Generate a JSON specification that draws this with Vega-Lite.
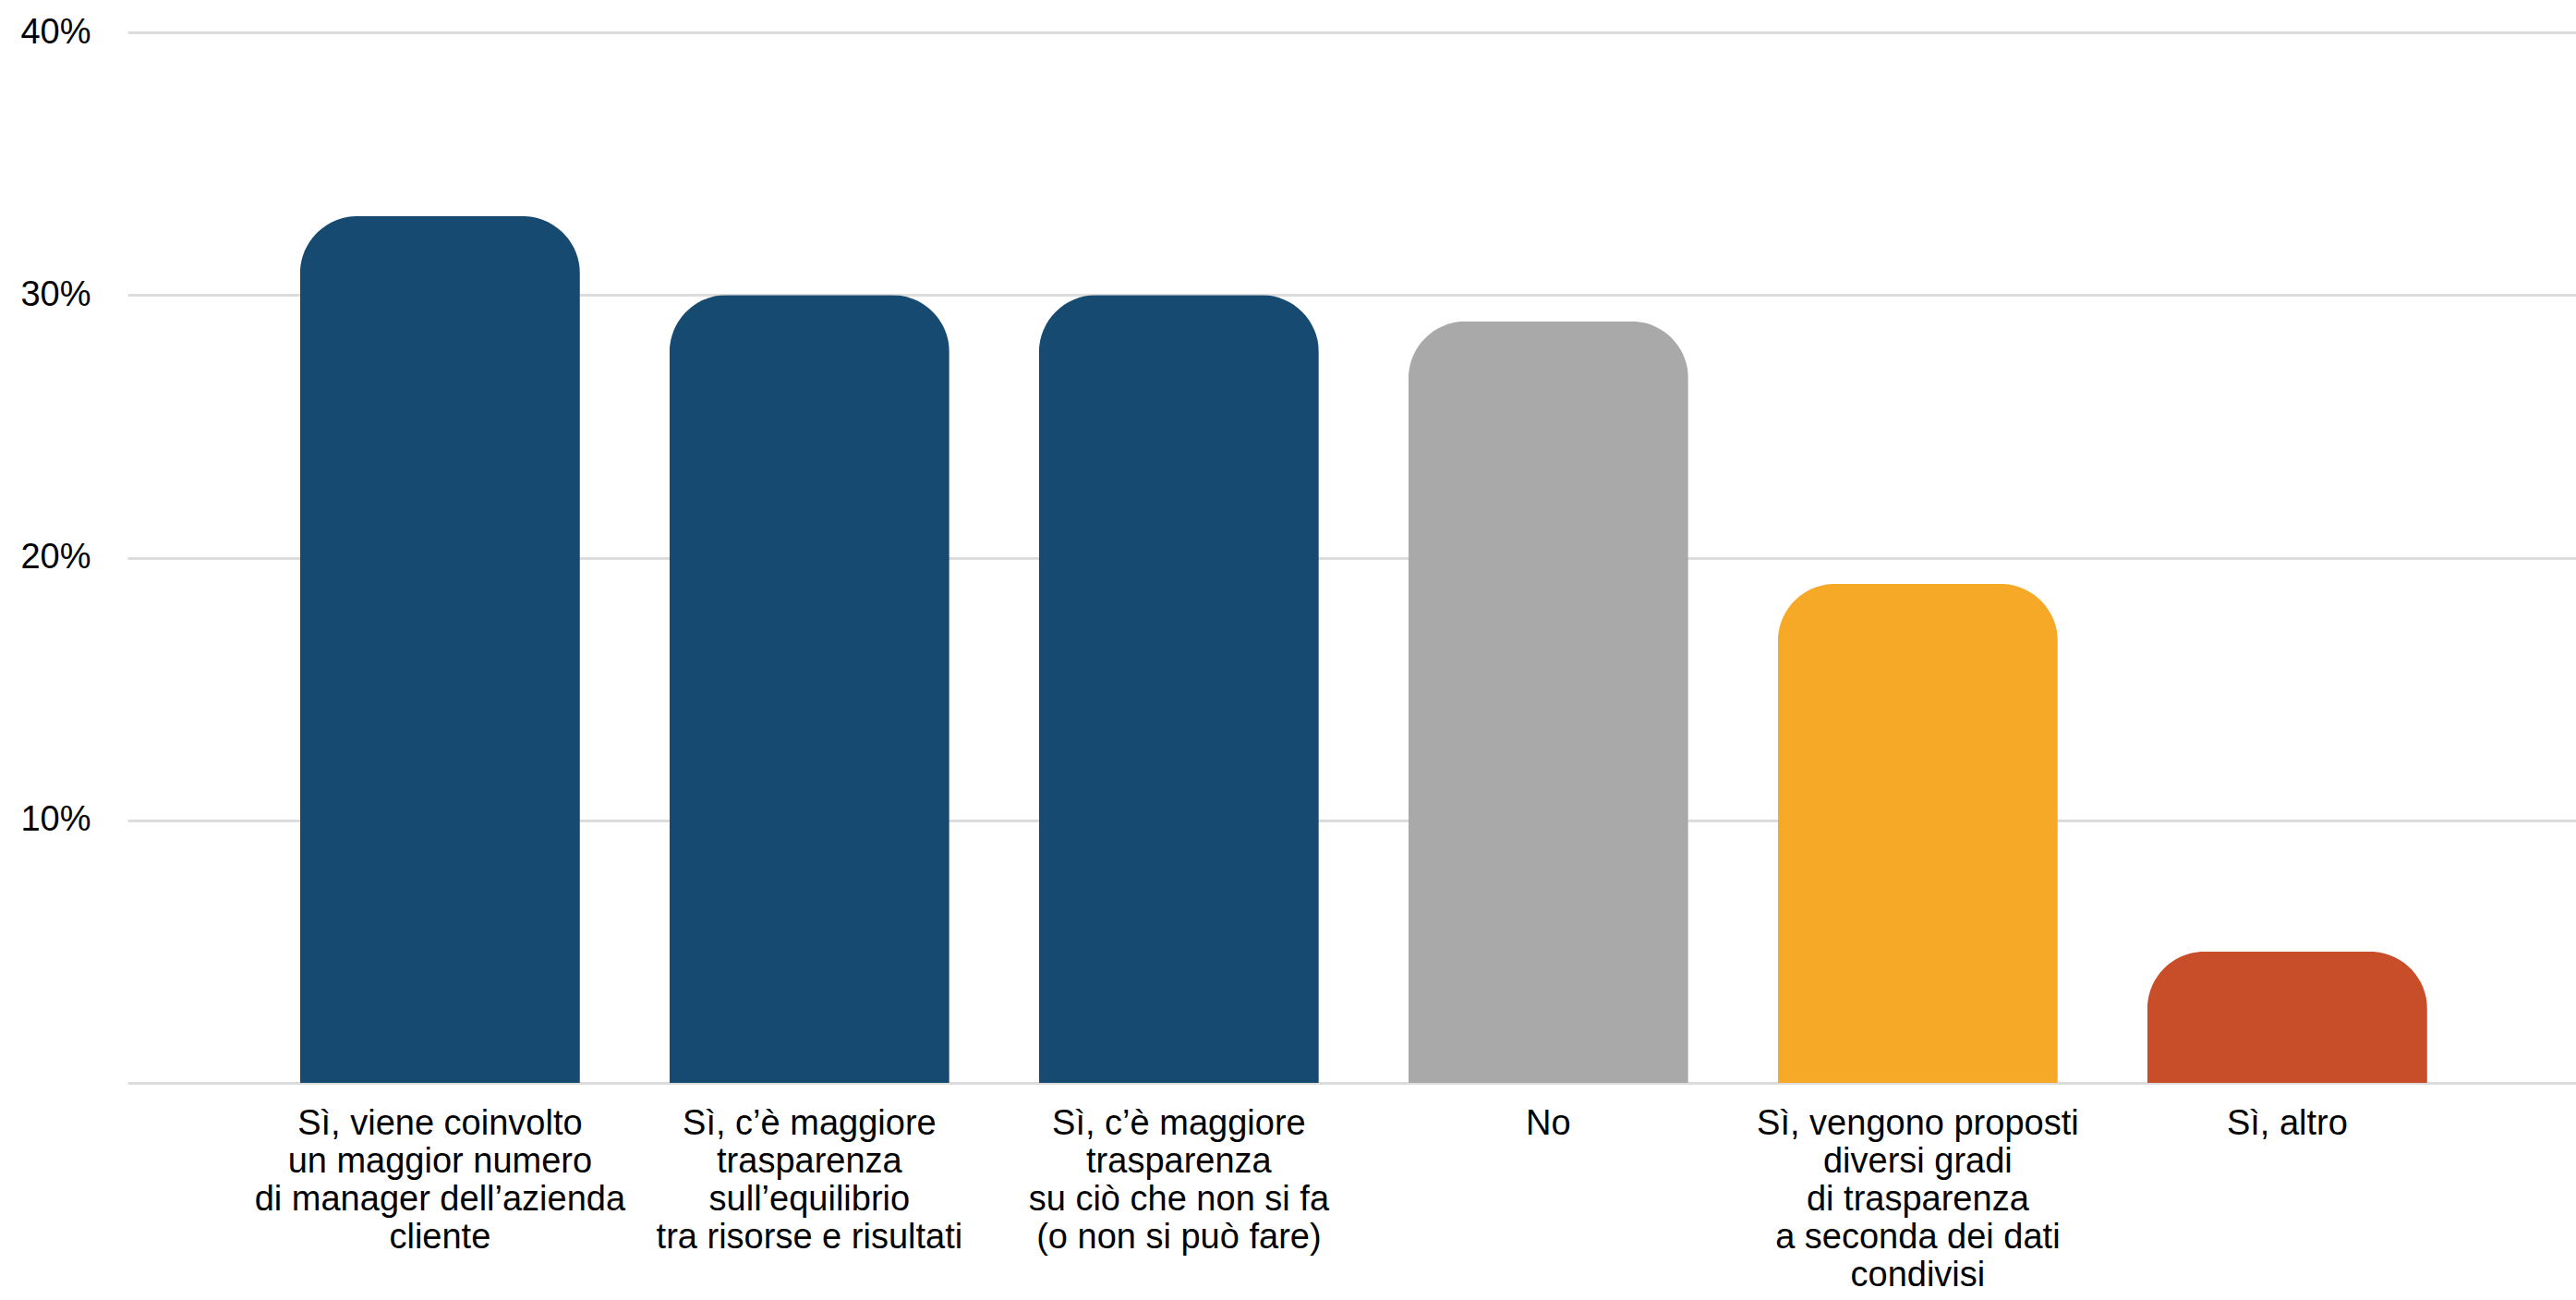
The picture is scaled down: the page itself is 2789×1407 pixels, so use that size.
{
  "$schema": "https://vega.github.io/schema/vega-lite/v6.json",
  "width": 2651,
  "height": 1137,
  "autosize": {"type": "none"},
  "padding": {"left": 138, "top": 35, "right": 0, "bottom": 235},
  "background": "white",
  "config": {
    "view": {"stroke": null},
    "font": "Liberation Sans"
  },
  "data": {
    "values": [
      {"risposta": "Sì, viene coinvolto|un maggior numero|di manager dell’azienda|cliente", "quota": 0.33},
      {"risposta": "Sì, c’è maggiore|trasparenza|sull’equilibrio|tra risorse e risultati", "quota": 0.30},
      {"risposta": "Sì, c’è maggiore|trasparenza|su ciò che non si fa|(o non si può fare)", "quota": 0.30},
      {"risposta": "No", "quota": 0.29},
      {"risposta": "Sì, vengono proposti|diversi gradi|di trasparenza|a seconda dei dati|condivisi", "quota": 0.19},
      {"risposta": "Sì, altro", "quota": 0.05}
    ]
  },
  "mark": {"type": "bar", "cornerRadiusTopLeft": 62, "cornerRadiusTopRight": 62},
  "encoding": {
    "x": {
      "field": "risposta",
      "type": "nominal",
      "sort": null,
      "scale": {"paddingInner": 0.2425, "paddingOuter": 0.435, "align": 0.537},
      "axis": {
        "title": null,
        "labelAngle": 0,
        "labelExpr": "split(datum.label, '|')",
        "labelFont": "Liberation Sans",
        "labelFontSize": 38,
        "labelLineHeight": 41,
        "labelColor": "#000000",
        "labelPadding": 25,
        "labelLimit": 0,
        "ticks": false,
        "domain": false,
        "grid": false
      }
    },
    "y": {
      "field": "quota",
      "type": "quantitative",
      "scale": {"domain": [0, 0.4], "nice": false},
      "axis": {
        "title": null,
        "values": [0, 0.1, 0.2, 0.3, 0.4],
        "labelExpr": "datum.value == 0 ? '' : format(datum.value, '.0%')",
        "labelFont": "Liberation Sans",
        "labelFontSize": 38,
        "labelColor": "#000000",
        "labelPadding": 40,
        "ticks": false,
        "domain": false,
        "grid": true,
        "gridColor": "#dcdcdc",
        "gridWidth": 3
      }
    },
    "color": {
      "field": "risposta",
      "type": "nominal",
      "legend": null,
      "scale": {
        "domain": [
          "Sì, viene coinvolto|un maggior numero|di manager dell’azienda|cliente",
          "Sì, c’è maggiore|trasparenza|sull’equilibrio|tra risorse e risultati",
          "Sì, c’è maggiore|trasparenza|su ciò che non si fa|(o non si può fare)",
          "No",
          "Sì, vengono proposti|diversi gradi|di trasparenza|a seconda dei dati|condivisi",
          "Sì, altro"
        ],
        "range": ["#174a70", "#174a70", "#174a70", "#a9a9a9", "#f5a927", "#c84d29"]
      }
    }
  }
}
